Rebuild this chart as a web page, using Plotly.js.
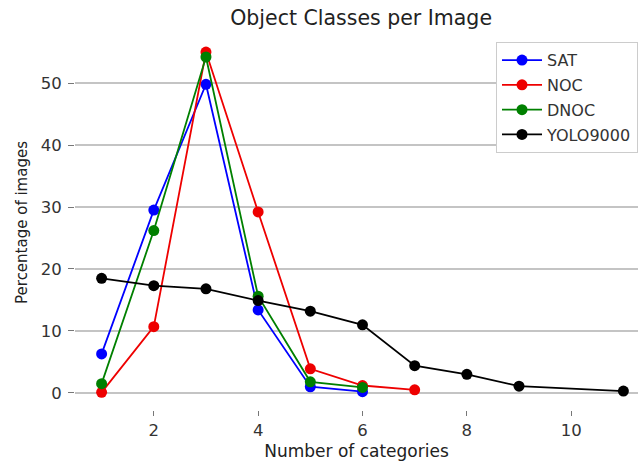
<!DOCTYPE html>
<html><head><meta charset="utf-8">
<script src="https://cdn.plot.ly/plotly-3.0.1.min.js"></script>
<style>html,body{margin:0;padding:0;background:#fff}#c{width:638px;height:466px}</style>
</head><body><div id="c"></div>
<script>
const satX = [1, 2, 3, 4, 5, 6];
const satY = [6.3, 29.5, 49.8, 13.4, 1.0, 0.2];
const nocX = [1, 2, 3, 4, 5, 6, 7];
const nocY = [0.1, 10.7, 55.0, 29.2, 3.9, 1.2, 0.5];
const dnocX = [1, 2, 3, 4, 5, 6];
const dnocY = [1.5, 26.2, 54.2, 15.6, 1.8, 0.9];
const yoloX = [1, 2, 3, 4, 5, 6, 7, 8, 9, 11];
const yoloY = [18.5, 17.3, 16.8, 14.9, 13.2, 11.0, 4.4, 3.0, 1.1, 0.3];
const xTicks = [2, 4, 6, 8, 10];
const yTicks = [0, 10, 20, 30, 40, 50];

function tr(name, x, y, color) {
  return {x: x, y: y, name: name, legendgroup: name, type: 'scatter', mode: 'lines+markers',
    line: {color: color, width: 1.8}, marker: {color: color, size: 11}};
}
const data = [
  tr('SAT', satX, satY, '#0000ff'),
  tr('NOC', nocX, nocY, '#ee0000'),
  tr('DNOC', dnocX, dnocY, '#008000'),
  tr('YOLO9000', yoloX, yoloY, '#000000')
];
const layout = {
  width: 638, height: 466,
  margin: {l: 75, r: 0, t: 35, b: 56},
  paper_bgcolor: '#fff', plot_bgcolor: '#fff',
  font: {family: 'DejaVu Sans', color: '#333', size: 16},
  title: {text: 'Object Classes per Image', font: {family: 'DejaVu Sans', size: 20.5, color: '#222'}, x: 0.566, xanchor: 'center', y: 0.961, yanchor: 'middle'},
  xaxis: {range: [0.49, 11.28], tickvals: xTicks, ticks: 'outside', ticklen: 5, tickcolor: '#777',
    tickfont: {size: 16.5, color: '#333'},
    showgrid: false, zeroline: false, showline: false,
    title: {text: 'Number of categories', font: {size: 17, color: '#222'}, standoff: 6}},
  yaxis: {range: [-2.75, 57.75], tickvals: yTicks, ticks: 'outside', ticklen: 6, tickcolor: '#777',
    tickfont: {size: 16.5, color: '#333'}, ticklabelstandoff: 3,
    showgrid: true, gridcolor: '#c4c4c4', gridwidth: 1.2, zeroline: false, showline: false,
    title: {text: 'Percentage of images', font: {size: 15, color: '#222'}, standoff: 9}},
  legend: {x: 1, xanchor: 'right', y: 0.981, yanchor: 'top', bgcolor: '#fff', bordercolor: '#ccc', borderwidth: 1,
    font: {size: 16, color: '#333'}, traceorder: 'grouped', tracegroupgap: 1, itemwidth: 40},
  showlegend: true
};
Plotly.newPlot('c', data, layout, {displayModeBar: false, staticPlot: true});
</script>
</body></html>
